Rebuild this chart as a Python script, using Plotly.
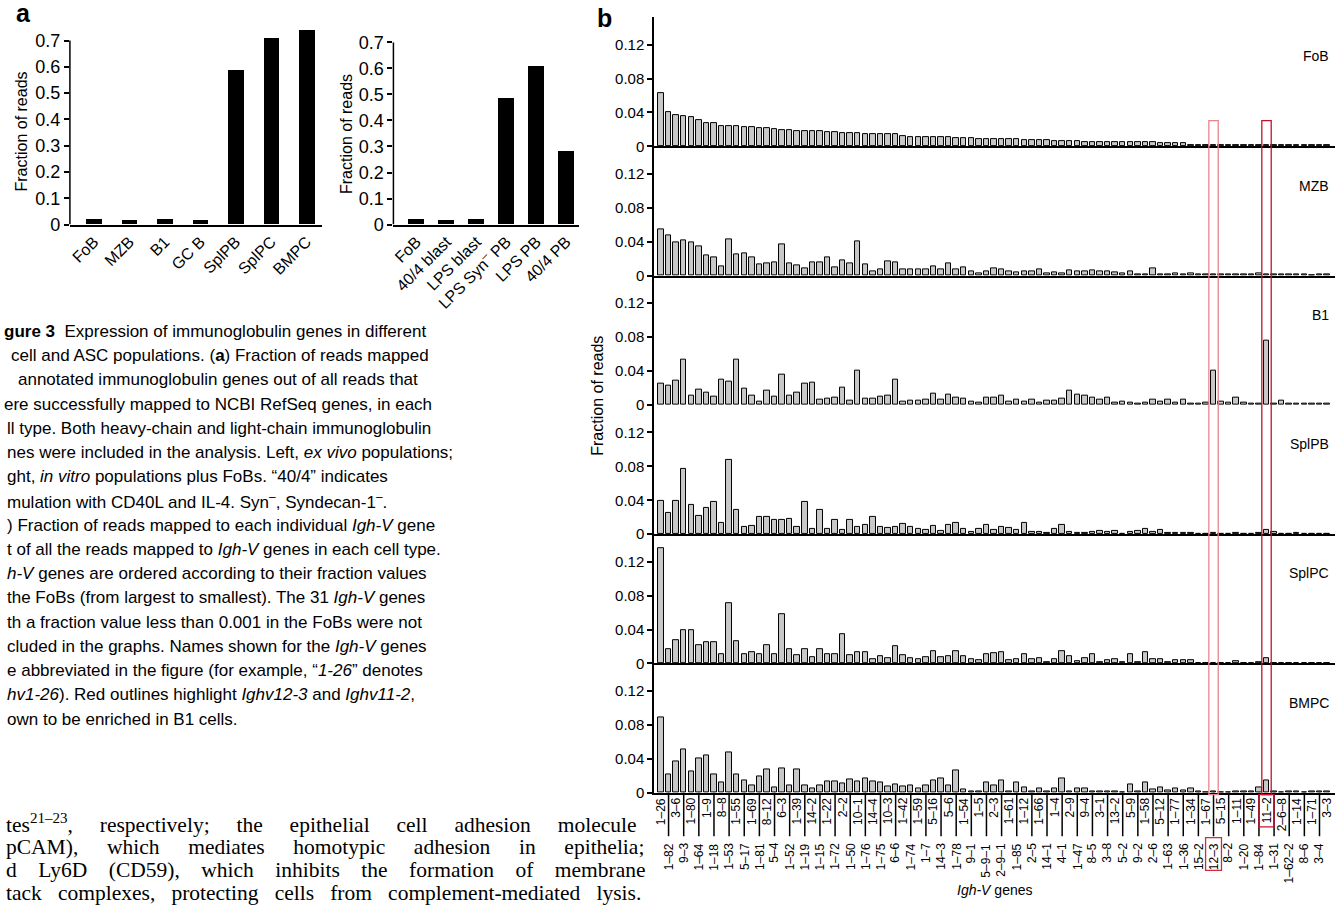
import plotly.graph_objects as go

# ---------------- data ----------------
cells_exvivo = ["FoB", "MZB", "B1", "GC B", "SplPB", "SplPC", "BMPC"]
frac_exvivo = [0.019, 0.017, 0.021, 0.014, 0.588, 0.710, 0.740]

cells_invitro = ["FoB", "40/4 blast", "LPS blast", "LPS Syn<sup>–</sup> PB", "LPS PB", "40/4 PB"]
frac_invitro = [0.019, 0.017, 0.019, 0.483, 0.606, 0.280]

genes = ["1–26", "1–82", "3–6", "9–3", "1–80", "1–64", "1–9", "1–18", "8–8", "1–53",
         "1–55", "5–17", "1–69", "1–81", "8–12", "5–4", "6–3", "1–52", "1–39", "1–19",
         "14–2", "1–15", "1–22", "1–72", "2–2", "1–50", "10–1", "1–76", "14–4", "1–75",
         "10–3", "6–6", "1–42", "1–74", "1–59", "1–7", "5–16", "14–3", "5–6", "1–78",
         "1–54", "9–1", "1–5", "5–9–1", "2–3", "2–9–1", "1–61", "1–85", "1–12", "2–5",
         "1–66", "14–1", "1–4", "4–1", "2–9", "1–47", "9–4", "8–5", "3–1", "3–8",
         "13–2", "5–2", "5–9", "9–2", "1–58", "2–6", "5–12", "1–63", "1–77", "1–36",
         "1–34", "15–2", "1–67", "12–3", "5–15", "8–2", "1–11", "1–20", "1–49", "1–84",
         "11–2", "1–31", "2–6–8", "1–62–2", "1–14", "8–6", "1–71", "3–4", "3–3"]

fob = [0.063, 0.040, 0.037, 0.036, 0.034, 0.031, 0.027, 0.027, 0.024, 0.024,
       0.0235, 0.023, 0.023, 0.021, 0.021, 0.020, 0.019, 0.019, 0.018, 0.018,
       0.018, 0.018, 0.017, 0.017, 0.016, 0.016, 0.016, 0.015, 0.015, 0.015,
       0.014, 0.014, 0.012, 0.011, 0.011, 0.011, 0.011, 0.011, 0.011, 0.010,
       0.010, 0.010, 0.009, 0.009, 0.009, 0.008, 0.008, 0.008, 0.007, 0.007,
       0.007, 0.007, 0.006, 0.006, 0.006, 0.006, 0.005, 0.005, 0.005, 0.005,
       0.005, 0.0045, 0.0045, 0.0045, 0.0045, 0.0045, 0.004, 0.004, 0.0035, 0.0035,
       0.002, 0.002, 0.002, 0.002, 0.002, 0.002, 0.0018, 0.0018, 0.0018, 0.0018,
       0.0018, 0.0018, 0.0012, 0.0012, 0.0011, 0.0011, 0.001, 0.001, 0.001]

mzb = [0.054, 0.048, 0.039, 0.042, 0.039, 0.035, 0.024, 0.022, 0.011, 0.043,
       0.025, 0.026, 0.022, 0.013, 0.015, 0.016, 0.037, 0.015, 0.012, 0.009,
       0.016, 0.016, 0.022, 0.010, 0.018, 0.014, 0.041, 0.013, 0.005, 0.007,
       0.017, 0.016, 0.007, 0.007, 0.0075, 0.007, 0.011, 0.0075, 0.0145, 0.007,
       0.010, 0.0055, 0.003, 0.005, 0.008, 0.0075, 0.005, 0.0035, 0.005, 0.005,
       0.007, 0.003, 0.0035, 0.003, 0.006, 0.0045, 0.005, 0.006, 0.005, 0.0045,
       0.004, 0.003, 0.005, 0.002, 0.002, 0.008, 0.002, 0.002, 0.003, 0.0015,
       0.0025, 0.001, 0.001, 0.001, 0.0015, 0.0015, 0.002, 0.0015, 0.001, 0.0025,
       0.002, 0.0015, 0.002, 0.001, 0.001, 0.001, 0.0005, 0.0015, 0.001]

b1 = [0.025, 0.023, 0.029, 0.053, 0.011, 0.018, 0.0145, 0.010, 0.030, 0.027,
      0.053, 0.0195, 0.011, 0.004, 0.017, 0.010, 0.036, 0.0105, 0.0145, 0.025,
      0.026, 0.006, 0.0075, 0.008, 0.020, 0.0055, 0.041, 0.0075, 0.0075, 0.010,
      0.0115, 0.030, 0.0035, 0.0055, 0.0055, 0.0065, 0.0135, 0.006, 0.0125, 0.008,
      0.007, 0.0035, 0.0025, 0.008, 0.008, 0.0105, 0.0035, 0.006, 0.0035, 0.0065,
      0.003, 0.0045, 0.005, 0.007, 0.017, 0.012, 0.011, 0.008, 0.0065, 0.008,
      0.003, 0.0035, 0.003, 0.0015, 0.0025, 0.0065, 0.0035, 0.006, 0.003, 0.006,
      0.0015, 0.0015, 0.0025, 0.040, 0.0035, 0.003, 0.009, 0.0025, 0.001, 0.001,
      0.076, 0.0015, 0.0045, 0.0015, 0.0015, 0.001, 0.001, 0.002, 0.001]

splpb = [0.039, 0.025, 0.039, 0.0765, 0.035, 0.022, 0.031, 0.0375, 0.013, 0.087,
         0.0285, 0.0085, 0.010, 0.0205, 0.020, 0.0165, 0.0165, 0.0175, 0.0085, 0.0375,
         0.006, 0.029, 0.006, 0.0165, 0.005, 0.0165, 0.0085, 0.011, 0.0205, 0.0085,
         0.007, 0.0085, 0.012, 0.008, 0.0065, 0.0045, 0.0095, 0.004, 0.0115, 0.013,
         0.006, 0.003, 0.006, 0.011, 0.005, 0.008, 0.007, 0.005, 0.013, 0.003,
         0.003, 0.0015, 0.0065, 0.0115, 0.0025, 0.001, 0.0015, 0.0025, 0.004, 0.0025,
         0.0035, 0.0005, 0.003, 0.004, 0.006, 0.0025, 0.0045, 0.001, 0.0015, 0.001,
         0.001, 0.0005, 0.0005, 0.001, 0.0005, 0.0005, 0.001, 0.0005, 0.0005, 0.001,
         0.005, 0.0025, 0.0008, 0.0005, 0.001, 0.0005, 0.0005, 0.0005, 0.0005]

splpc = [0.136, 0.0165, 0.0275, 0.0395, 0.0395, 0.022, 0.0255, 0.0255, 0.011, 0.071,
         0.026, 0.0105, 0.0135, 0.011, 0.0215, 0.011, 0.0585, 0.0165, 0.0095, 0.017,
         0.007, 0.017, 0.0105, 0.0115, 0.034, 0.0095, 0.013, 0.013, 0.005, 0.008,
         0.006, 0.020, 0.0095, 0.0065, 0.0045, 0.007, 0.014, 0.007, 0.008, 0.014,
         0.008, 0.0045, 0.004, 0.011, 0.012, 0.013, 0.004, 0.005, 0.0105, 0.0045,
         0.006, 0.001, 0.0045, 0.015, 0.008, 0.003, 0.006, 0.0105, 0.001, 0.004,
         0.0045, 0.001, 0.0115, 0.001, 0.013, 0.0045, 0.0045, 0.001, 0.0035, 0.0035,
         0.0035, 0.0005, 0.0005, 0.0005, 0.0005, 0.0005, 0.0025, 0.0005, 0.0005, 0.001,
         0.006, 0.0005, 0.0005, 0.0005, 0.0005, 0.0005, 0.0005, 0.0005, 0.0005]

bmpc = [0.089, 0.0215, 0.0365, 0.0505, 0.025, 0.041, 0.044, 0.0215, 0.012, 0.048,
        0.0215, 0.015, 0.008, 0.0195, 0.028, 0.006, 0.029, 0.009, 0.028, 0.008,
        0.005, 0.0085, 0.0135, 0.0135, 0.011, 0.016, 0.0135, 0.0165, 0.013, 0.0125,
        0.007, 0.0095, 0.0075, 0.008, 0.005, 0.008, 0.015, 0.0165, 0.008, 0.026,
        0.004, 0.002, 0.002, 0.012, 0.0085, 0.015, 0.002, 0.012, 0.006, 0.002,
        0.0055, 0.002, 0.0055, 0.0165, 0.002, 0.0045, 0.0045, 0.002, 0.002, 0.0015,
        0.002, 0.0005, 0.0095, 0.002, 0.0125, 0.004, 0.006, 0.003, 0.005, 0.003,
        0.005, 0.001, 0.0005, 0.001, 0.0005, 0.0003, 0.001, 0.0015, 0.001, 0.006,
        0.015, 0.002, 0.0005, 0.0015, 0.001, 0.0005, 0.001, 0.001, 0.001]

panel_names = ["FoB", "MZB", "B1", "SplPB", "SplPC", "BMPC"]
panel_values = [fob, mzb, b1, splpb, splpc, bmpc]
highlight_genes = ["12–3", "11–2"]

# ---------------- layout helpers ----------------
W, H = 1343, 913
def px(x):
    return x / W
def py(y):
    return 1 - y / H

FONT = "Liberation Sans, Arial, Helvetica, sans-serif"
SERIF = "Liberation Serif, Times New Roman, serif"

fig = go.Figure()
layout = dict(width=W, height=H, margin=dict(l=0, r=0, t=0, b=0),
              plot_bgcolor="white", paper_bgcolor="white", showlegend=False,
              font=dict(family=FONT, color="black", size=14), bargap=0)
shapes = []
annotations = []

YT = [0, 0.1, 0.2, 0.3, 0.4, 0.5, 0.6, 0.7]
YTT = ["0", "0.1", "0.2", "0.3", "0.4", "0.5", "0.6", "0.7"]

# ---- panel a (left) ----
fig.add_trace(go.Bar(x=cells_exvivo, y=frac_exvivo, xaxis="x", yaxis="y",
                     marker=dict(color="black", line=dict(width=0)), width=0.44))
layout["xaxis"] = dict(domain=[px(68), px(320)], anchor="y", range=[-0.68, 6.42],
                       showline=True, linecolor="black", linewidth=1.5, ticks="",
                       tickangle=-45, tickfont=dict(size=16), showgrid=False)
layout["yaxis"] = dict(domain=[py(227), py(27.7)], anchor="x", range=[0, 0.75],
                       tickvals=YT, ticktext=YTT,
                       ticks="outside", ticklen=5, tickwidth=1.5, tickcolor="black",
                       showline=False, showgrid=False, zeroline=False, tickfont=dict(size=18))
shapes.append(dict(type="line", xref="paper", yref="y", x0=px(68), x1=px(68), y0=0, y1=0.7,
                   line=dict(color="black", width=1.5)))

# ---- panel a (right) ----
fig.add_trace(go.Bar(x=cells_invitro, y=frac_invitro, xaxis="x2", yaxis="y2",
                     marker=dict(color="black", line=dict(width=0)), width=0.53))
layout["xaxis2"] = dict(domain=[px(392), px(578)], anchor="y2", range=[-0.77, 5.43],
                        showline=True, linecolor="black", linewidth=1.5, ticks="",
                        tickangle=-45, tickfont=dict(size=16), showgrid=False)
layout["yaxis2"] = dict(domain=[py(227), py(29.8)], anchor="x2", range=[0, 0.75],
                        tickvals=YT, ticktext=YTT,
                        ticks="outside", ticklen=5, tickwidth=1.5, tickcolor="black",
                        showline=False, showgrid=False, zeroline=False, tickfont=dict(size=18))
shapes.append(dict(type="line", xref="paper", yref="y2", x0=px(392), x1=px(392), y0=0, y1=0.7,
                   line=dict(color="black", width=1.5)))

# ---- panel b ----
PANEL_H = 130.7
ZERO0 = 148.0
YMAX = PANEL_H / 857.5
XL, XR = 653, 1335
xr = [-0.92, 89.05]
for k, (name, vals) in enumerate(zip(panel_names, panel_values)):
    n = k + 3
    zero = ZERO0 + PANEL_H * k
    top = zero - PANEL_H
    fig.add_trace(go.Bar(x=genes, y=vals, xaxis=f"x{n}", yaxis=f"y{n}",
                         marker=dict(color="#c8c8c8", line=dict(color="black", width=1)),
                         width=0.72))
    layout[f"xaxis{n}"] = dict(domain=[px(XL), px(XR)], anchor=f"y{n}", range=xr,
                               showline=True, linecolor="black", linewidth=1.5,
                               ticks="", showticklabels=False, showgrid=False,
                               categoryorder="array", categoryarray=genes)
    layout[f"yaxis{n}"] = dict(domain=[py(zero), py(top)], anchor=f"x{n}", range=[0, YMAX],
                               tickvals=[0, 0.04, 0.08, 0.12],
                               ticktext=["0", "0.04", "0.08", "0.12"],
                               ticks="outside", ticklen=5, tickwidth=1.5, tickcolor="black",
                               showline=True, linecolor="black", linewidth=1.5,
                               showgrid=False, zeroline=False, tickfont=dict(size=15))
    annotations.append(dict(xref="paper", yref="paper", x=px(1331), y=py(zero - 91),
                            xanchor="right", yanchor="middle", text=name, showarrow=False,
                            font=dict(size=14)))

# gene labels under panel b (alternating rows)
AX_Y = ZERO0 + PANEL_H * 5
for i, g in enumerate(genes):
    if i % 2 == 0:
        annotations.append(dict(xref="x8", yref="paper", x=i, y=py(AX_Y + 3), text=g,
                                textangle=-90, xanchor="center", yanchor="top",
                                showarrow=False, font=dict(size=12)))
    else:
        shapes.append(dict(type="line", xref="x8", yref="paper", x0=i, x1=i,
                           y0=py(AX_Y), y1=py(AX_Y + 44), line=dict(color="black", width=1.5)))
        annotations.append(dict(xref="x8", yref="paper", x=i, y=py(AX_Y + 49), text=g,
                                textangle=-90, xanchor="center", yanchor="top",
                                showarrow=False, font=dict(size=12)))

# red highlight boxes
box_colors = {"12–3": "#e8868b", "11–2": "#c8102e"}
for g in highlight_genes:
    i = genes.index(g)
    shapes.append(dict(type="rect", xref="x8", yref="paper", x0=i - 0.62, x1=i + 0.62,
                       y0=py(AX_Y + 2), y1=py(122), line=dict(color=box_colors[g], width=1.3)))
i = genes.index("12–3")
shapes.append(dict(type="rect", xref="x8", yref="paper", x0=i - 1.05, x1=i + 1.05,
                   y0=py(880), y1=py(847), line=dict(color="#d42a3a", width=1.3)))
i = genes.index("11–2")
shapes.append(dict(type="rect", xref="x8", yref="paper", x0=i - 1.0, x1=i + 1.0,
                   y0=py(836), y1=py(AX_Y + 2), line=dict(color="#c8102e", width=1.3)))

# axis titles and panel letters
annotations += [
    dict(xref="paper", yref="paper", x=px(20), y=py(133), text="Fraction of reads",
         textangle=-90, showarrow=False, font=dict(size=16), xanchor="center", yanchor="middle"),
    dict(xref="paper", yref="paper", x=px(345), y=py(135), text="Fraction of reads",
         textangle=-90, showarrow=False, font=dict(size=16), xanchor="center", yanchor="middle"),
    dict(xref="paper", yref="paper", x=px(597), y=py(400), text="Fraction of reads",
         textangle=-90, showarrow=False, font=dict(size=16), xanchor="center", yanchor="middle"),
    dict(xref="paper", yref="paper", x=px(994), y=py(900), text="<i>Igh-V</i> genes",
         showarrow=False, font=dict(size=14), xanchor="center", yanchor="middle"),
    dict(xref="paper", yref="paper", x=px(12), y=py(13), text="<b>a</b>",
         showarrow=False, font=dict(size=25), xanchor="left", yanchor="middle"),
    dict(xref="paper", yref="paper", x=px(594), y=py(18), text="<b>b</b>",
         showarrow=False, font=dict(size=25), xanchor="left", yanchor="middle"),
]

# caption text (cut at left edge as in the reference)
caption_lines = [
    (0, "<b>gure 3</b>  Expression of immunoglobulin genes in different"),
    (7, "cell and ASC populations. (<b>a</b>) Fraction of reads mapped"),
    (14, "annotated immunoglobulin genes out of all reads that"),
    (0, "ere successfully mapped to NCBI RefSeq genes, in each"),
    (3, "ll type. Both heavy-chain and light-chain immunoglobulin"),
    (3, "nes were included in the analysis. Left, <i>ex vivo</i> populations;"),
    (3, "ght, <i>in vitro</i> populations plus FoBs. “40/4” indicates"),
    (3, "mulation with CD40L and IL-4. Syn<sup>–</sup>, Syndecan-1<sup>–</sup>."),
    (3, ") Fraction of reads mapped to each individual <i>Igh-V</i> gene"),
    (3, "t of all the reads mapped to <i>Igh-V</i> genes in each cell type."),
    (3, "<i>h-V</i> genes are ordered according to their fraction values"),
    (3, "the FoBs (from largest to smallest). The 31 <i>Igh-V</i> genes"),
    (3, "th a fraction value less than 0.001 in the FoBs were not"),
    (3, "cluded in the graphs. Names shown for the <i>Igh-V</i> genes"),
    (3, "e abbreviated in the figure (for example, “<i>1-26</i>” denotes"),
    (3, "<i>hv1-26</i>). Red outlines highlight <i>Ighv12-3</i> and <i>Ighv11-2</i>,"),
    (3, "own to be enriched in B1 cells."),
]
for j, (x0, t) in enumerate(caption_lines):
    annotations.append(dict(xref="paper", yref="paper", x=px(x0), y=py(335 + 24.5 * j),
                            text=t, showarrow=False, xanchor="left", yanchor="middle",
                            font=dict(size=17, family=FONT)))

# body text (justified in the reference: widen word gaps with no-break spaces)
NB = "\u00a0"
body_lines = [
    ("tes<sup>21–23</sup>, respectively; the epithelial cell adhesion molecule", NB * 4),
    ("pCAM), which mediates homotypic adhesion in epithelia;", NB * 4 + "\u200a"),
    ("d Ly6D (CD59), which inhibits the formation of membrane", NB * 3),
    ("tack complexes, protecting cells from complement-mediated lysis.", NB * 2),
]
for j, (t, extra) in enumerate(body_lines):
    t = t.replace(" ", " " + extra)
    annotations.append(dict(xref="paper", yref="paper", x=px(2), y=py(832.5 + 23.5 * j),
                            text=t, showarrow=False, xanchor="left", yanchor="middle",
                            font=dict(size=21.5, family=SERIF)))

layout["shapes"] = shapes
layout["annotations"] = annotations
fig.update_layout(**layout)
fig.write_html("out.html", config={"displayModeBar": False},
               post_script="document.body.style.margin='0';document.body.style.overflow='hidden';")
